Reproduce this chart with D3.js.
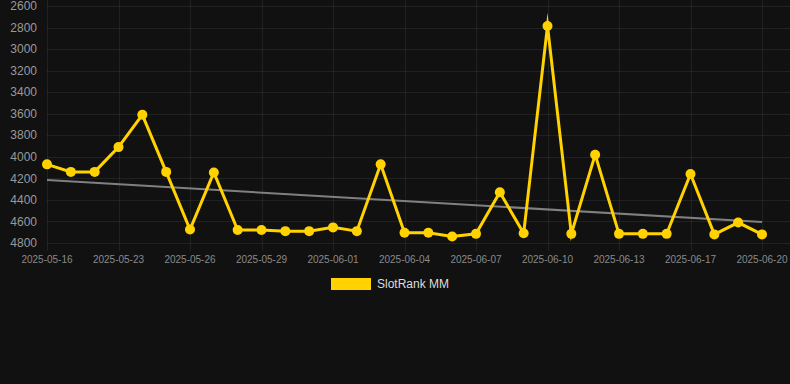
<!DOCTYPE html>
<html>
<head>
<meta charset="utf-8">
<script src="https://cdn.jsdelivr.net/npm/d3@7/dist/d3.min.js"></script>
<style>
	html, body { margin: 0; padding: 0; background: #111111; }
	#chart { width: 790px; height: 384px; }
	text { font-family: "Liberation Sans", Arial, Helvetica, sans-serif; }
</style>
</head>
<body>
<div id="chart"></div>
<script>
var dates = [
	"2025-05-16", "2025-05-19", "2025-05-21", "2025-05-23", "2025-05-24", "2025-05-25",
	"2025-05-26", "2025-05-27", "2025-05-28", "2025-05-29", "2025-05-30", "2025-05-31",
	"2025-06-01", "2025-06-02", "2025-06-03", "2025-06-04", "2025-06-05", "2025-06-06",
	"2025-06-07", "2025-06-08", "2025-06-09", "2025-06-10", "2025-06-11", "2025-06-12",
	"2025-06-13", "2025-06-14", "2025-06-16", "2025-06-17", "2025-06-18", "2025-06-19",
	"2025-06-20"
];
var ranks = [
	4070, 4140, 4140, 3910, 3610, 4140,
	4675, 4145, 4680, 4680, 4690, 4690,
	4655, 4690, 4070, 4705, 4705, 4740,
	4715, 4330, 4710, 2785, 4715, 3980,
	4715, 4715, 4715, 4160, 4720, 4610,
	4720
];
var yTicks = [2600, 2800, 3000, 3200, 3400, 3600, 3800, 4000, 4200, 4400, 4600, 4800];
var seriesName = "SlotRank MM";

var width = 790,
	height = 384,
	plotLeft = 47,
	plotRight = 790,
	plotTop = 6,
	plotBottom = 243;

var svg = d3.select("#chart").append("svg")
	.attr("width", width)
	.attr("height", height)
	.style("display", "block")
	.style("background", "#111111");

var x = d3.scalePoint()
	.domain(dates)
	.range([47, 762]);

var y = d3.scaleLinear()
	.domain([2600, 4800])
	.range([plotTop, plotBottom]);

// grid
var grid = svg.append("g");
grid.selectAll("line.h")
	.data(yTicks)
	.join("line")
	.attr("class", "h")
	.attr("x1", plotLeft)
	.attr("x2", plotRight)
	.attr("y1", function (d) { return Math.round(y(d)) + 0.5; })
	.attr("y2", function (d) { return Math.round(y(d)) + 0.5; })
	.attr("stroke", "rgba(255,255,255,0.07)");

var xTickDates = dates.filter(function (d, i) { return i % 3 == 0; });

grid.selectAll("line.v")
	.data(xTickDates)
	.join("line")
	.attr("class", "v")
	.attr("x1", function (d) { return Math.round(x(d)) + 0.5; })
	.attr("x2", function (d) { return Math.round(x(d)) + 0.5; })
	.attr("y1", 0)
	.attr("y2", plotBottom + 8)
	.attr("stroke", "rgba(255,255,255,0.07)");

// y axis labels
svg.append("g")
	.selectAll("text")
	.data(yTicks)
	.join("text")
	.attr("x", 37)
	.attr("y", function (d) { return y(d); })
	.attr("dy", "0.35em")
	.attr("text-anchor", "end")
	.attr("fill", "#9a9a9a")
	.style("font-size", "12px")
	.text(function (d) { return d; });

// x axis labels
svg.append("g")
	.selectAll("text")
	.data(xTickDates)
	.join("text")
	.attr("x", function (d) { return x(d); })
	.attr("y", 259)
	.attr("dy", "0.35em")
	.attr("text-anchor", "middle")
	.attr("fill", "#8a8a8a")
	.style("font-size", "10px")
	.text(function (d) { return d; });

// trend line (least squares over the series)
var n = ranks.length,
	mx = d3.mean(ranks, function (d, i) { return i; }),
	my = d3.mean(ranks),
	sxy = 0, sxx = 0;
ranks.forEach(function (v, i) {
	sxy += (i - mx) * (v - my);
	sxx += (i - mx) * (i - mx);
});
var slope = sxy / sxx,
	icpt = my - slope * mx;

svg.append("line")
	.attr("x1", x(dates[0]))
	.attr("x2", x(dates[n - 1]))
	.attr("y1", y(icpt))
	.attr("y2", y(icpt + slope * (n - 1)))
	.attr("stroke", "#808080")
	.attr("stroke-width", 2);

// series
var line = d3.line()
	.x(function (d, i) { return x(dates[i]); })
	.y(function (d) { return y(d); });

svg.append("path")
	.datum(ranks)
	.attr("d", line)
	.attr("fill", "none")
	.attr("stroke", "#ffd200")
	.attr("stroke-width", 3)
	.attr("stroke-linejoin", "miter")
	.attr("stroke-miterlimit", 10);

svg.append("g")
	.selectAll("circle")
	.data(ranks)
	.join("circle")
	.attr("cx", function (d, i) { return x(dates[i]); })
	.attr("cy", function (d) { return y(d); })
	.attr("r", 5)
	.attr("fill", "#ffd200");

// legend
var legend = svg.append("g");
legend.append("rect")
	.attr("x", 331)
	.attr("y", 278)
	.attr("width", 40)
	.attr("height", 12)
	.attr("fill", "#ffd200");
legend.append("text")
	.attr("x", 377)
	.attr("y", 284)
	.attr("dy", "0.35em")
	.attr("fill", "#dddddd")
	.style("font-size", "12px")
	.text(seriesName);
</script>
</body>
</html>
